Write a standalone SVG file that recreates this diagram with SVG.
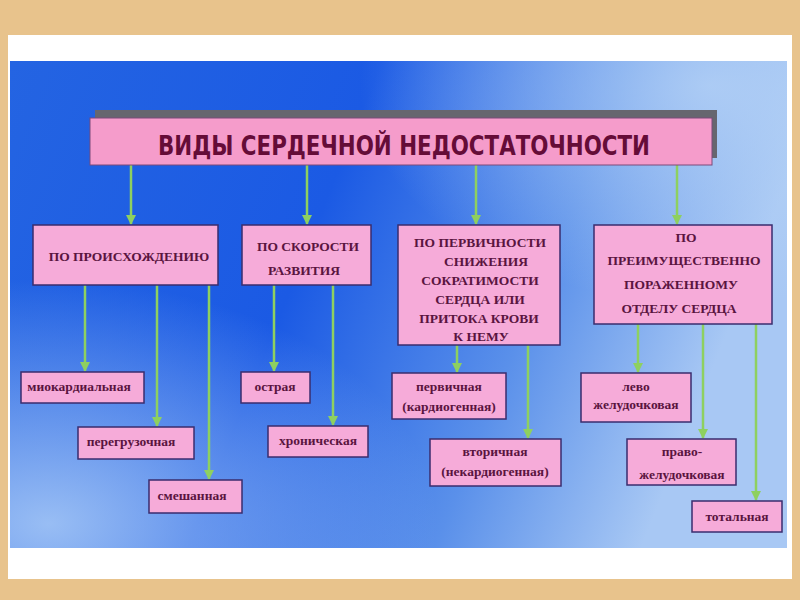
<svg xmlns="http://www.w3.org/2000/svg" width="800" height="600" viewBox="0 0 800 600">
  <defs>
    <linearGradient id="bg" x1="0" y1="0" x2="1" y2="0.25">
      <stop offset="0" stop-color="#2464e2"/>
      <stop offset="0.45" stop-color="#1b5ae4"/>
      <stop offset="0.75" stop-color="#5a90ea"/>
      <stop offset="1" stop-color="#a8c8f4"/>
    </linearGradient>
    <radialGradient id="glow" cx="0.05" cy="0.95" r="0.5">
      <stop offset="0" stop-color="#a6c8f6" stop-opacity="0.9"/>
      <stop offset="1" stop-color="#a6c8f6" stop-opacity="0"/>
    </radialGradient>
    <radialGradient id="glow2" cx="0.9" cy="0.05" r="0.45">
      <stop offset="0" stop-color="#b8d4f6" stop-opacity="0.8"/>
      <stop offset="1" stop-color="#b8d4f6" stop-opacity="0"/>
    </radialGradient>
    <marker id="arr" viewBox="0 0 10 10" refX="9" refY="5" markerWidth="4" markerHeight="4" orient="auto">
      <path d="M0,0 L10,5 L0,10 z" fill="#8ed060"/>
    </marker>
  </defs>
  <style>
    .box { fill: #f6abd9; stroke: #3a2d6e; stroke-width: 1.5; }
    .cat { font-family: "Liberation Serif", "DejaVu Serif", serif; font-weight: bold; font-size: 13.5px; fill: #5a1440; text-anchor: middle; }
    .leaf { font-family: "Liberation Serif", "DejaVu Serif", serif; font-weight: bold; font-size: 13.5px; fill: #5a1440; text-anchor: middle; }
    .title { font-family: "Liberation Sans Narrow", "DejaVu Sans Condensed", "Liberation Sans", sans-serif; font-weight: bold; font-size: 27px; fill: #650c38; text-anchor: middle; }
    .conn line { stroke: #8ed060; stroke-width: 2.5; marker-end: url(#arr); }
  </style>

  <!-- frame -->
  <rect x="0" y="0" width="800" height="600" fill="#e8c38c"/>
  <rect x="8" y="35" width="784" height="544" fill="#ffffff"/>
  <rect x="10" y="61" width="777" height="487" fill="url(#bg)"/>
  <rect x="10" y="61" width="777" height="487" fill="url(#glow)"/>
  <rect x="10" y="61" width="777" height="487" fill="url(#glow2)"/>

  <!-- connectors -->
  <g id="connectors" class="conn">
    <line x1="131" y1="165" x2="131" y2="224"/>
    <line x1="307" y1="165" x2="307" y2="224"/>
    <line x1="476" y1="165" x2="476" y2="224"/>
    <line x1="677" y1="165" x2="677" y2="224"/>
    <line x1="85" y1="285" x2="85" y2="371"/>
    <line x1="157" y1="285" x2="157" y2="426"/>
    <line x1="209" y1="285" x2="209" y2="479"/>
    <line x1="274" y1="285" x2="274" y2="371"/>
    <line x1="333" y1="285" x2="333" y2="425"/>
    <line x1="457" y1="345" x2="457" y2="372"/>
    <line x1="528" y1="345" x2="528" y2="438"/>
    <line x1="638" y1="324" x2="638" y2="372"/>
    <line x1="703" y1="324" x2="703" y2="438"/>
    <line x1="756" y1="324" x2="756" y2="500"/>
  </g>

  <!-- title -->
  <g id="title">
    <rect x="95" y="110" width="622" height="48" fill="#66666f"/>
    <rect x="90" y="118" width="622" height="47" fill="#f59ccb" stroke="#7a4a7a" stroke-width="1"/>
    <text class="title" x="404" y="155" textLength="492" lengthAdjust="spacingAndGlyphs">ВИДЫ  СЕРДЕЧНОЙ  НЕДОСТАТОЧНОСТИ</text>
  </g>

  <!-- categories -->
  <g id="cat-origin">
    <rect class="box" x="33" y="225" width="185" height="60"/>
    <text class="cat" x="129" y="261">ПО ПРОИСХОЖДЕНИЮ</text>
  </g>
  <g id="cat-speed">
    <rect class="box" x="242" y="225" width="129" height="60"/>
    <text class="cat" x="308" y="251">ПО  СКОРОСТИ</text>
    <text class="cat" x="304" y="275">РАЗВИТИЯ</text>
  </g>
  <g id="cat-primary">
    <rect class="box" x="398" y="225" width="162" height="120"/>
    <text class="cat" x="480" y="247">ПО ПЕРВИЧНОСТИ</text>
    <text class="cat" x="486" y="266">СНИЖЕНИЯ</text>
    <text class="cat" x="480" y="285">СОКРАТИМОСТИ</text>
    <text class="cat" x="480" y="304">СЕРДЦА  ИЛИ</text>
    <text class="cat" x="479" y="323">ПРИТОКА КРОВИ</text>
    <text class="cat" x="481" y="341">К  НЕМУ</text>
  </g>
  <g id="cat-part">
    <rect class="box" x="594" y="225" width="178" height="99"/>
    <text class="cat" x="686" y="242">ПО</text>
    <text class="cat" x="684" y="265">ПРЕИМУЩЕСТВЕННО</text>
    <text class="cat" x="681" y="289">ПОРАЖЕННОМУ</text>
    <text class="cat" x="679" y="313">ОТДЕЛУ СЕРДЦА</text>
  </g>

  <!-- leaves -->
  <g id="leaf-myocardial">
    <rect class="box" x="21" y="372" width="123" height="31"/>
    <text class="leaf" x="79" y="391">миокардиальная</text>
  </g>
  <g id="leaf-overload">
    <rect class="box" x="78" y="427" width="116" height="32"/>
    <text class="leaf" x="131" y="446">перегрузочная</text>
  </g>
  <g id="leaf-mixed">
    <rect class="box" x="149" y="480" width="93" height="33"/>
    <text class="leaf" x="192" y="500">смешанная</text>
  </g>
  <g id="leaf-acute">
    <rect class="box" x="241" y="372" width="69" height="31"/>
    <text class="leaf" x="275" y="391">острая</text>
  </g>
  <g id="leaf-chronic">
    <rect class="box" x="268" y="426" width="100" height="31"/>
    <text class="leaf" x="318" y="445">хроническая</text>
  </g>
  <g id="leaf-primary">
    <rect class="box" x="392" y="373" width="114" height="46"/>
    <text class="leaf" x="449" y="391">первичная</text>
    <text class="leaf" x="449" y="411">(кардиогенная)</text>
  </g>
  <g id="leaf-secondary">
    <rect class="box" x="430" y="439" width="131" height="47"/>
    <text class="leaf" x="495" y="456">вторичная</text>
    <text class="leaf" x="495" y="476">(некардиогенная)</text>
  </g>
  <g id="leaf-left">
    <rect class="box" x="581" y="373" width="110" height="49"/>
    <text class="leaf" x="636" y="391">лево</text>
    <text class="leaf" x="636" y="409">желудочковая</text>
  </g>
  <g id="leaf-right">
    <rect class="box" x="627" y="439" width="109" height="46"/>
    <text class="leaf" x="682" y="456">право-</text>
    <text class="leaf" x="682" y="479">желудочковая</text>
  </g>
  <g id="leaf-total">
    <rect class="box" x="692" y="501" width="90" height="31"/>
    <text class="leaf" x="737" y="521">тотальная</text>
  </g>
</svg>
